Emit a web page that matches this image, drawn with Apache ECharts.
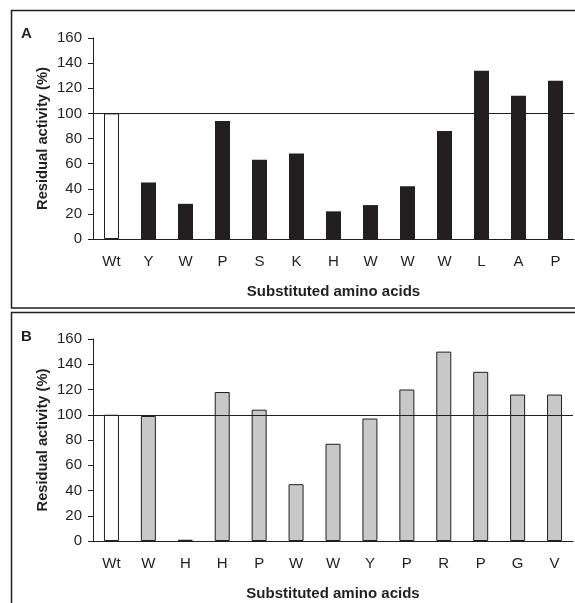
<!doctype html>
<html lang="en">
<head>
    <meta charset="UTF-8">
    <script src="https://cdn.jsdelivr.net/npm/echarts@6/dist/echarts.min.js"></script>
    <title>Residual activity</title>
    <style>
        html, body { margin: 0; padding: 0; background: #fff; }
    </style>
</head>
<body>
<div id="main" style="width: 575px;height:603px;"></div>
<script type="text/javascript">
    // data
    var catsA = ['Wt', 'Y', 'W', 'P', 'S', 'K', 'H', 'W', 'W', 'W', 'L', 'A', 'P'];
    var valsA = [100, 45, 28, 94, 63, 68, 22, 27, 42, 86, 134, 114, 126];
    var catsB = ['Wt', 'W', 'H', 'H', 'P', 'W', 'W', 'Y', 'P', 'R', 'P', 'G', 'V'];
    var valsB = [100, 99, 1, 118, 104, 45, 77, 97, 120, 150, 134, 116, 116];
    var yTicks = [0, 20, 40, 60, 80, 100, 120, 140, 160];

    var font = 'Liberation Sans, Arial, sans-serif';
    var ink = '#231f20';

    function xAxisOf(cats, idx) {
        return {
            type: 'category',
            gridIndex: idx,
            data: cats,
            name: 'Substituted amino acids',
            nameLocation: 'middle',
            nameGap: 45,
            nameTextStyle: { fontFamily: font, fontWeight: 'bold', fontSize: 15, color: ink },
            axisLine: { lineStyle: { color: ink, width: 1 } },
            axisTick: { length: 5, lineStyle: { color: ink } },
            axisLabel: { margin: 15, fontFamily: font, fontSize: 15, color: ink, interval: 0 }
        };
    }

    function yAxisOf(idx) {
        return {
            type: 'value',
            gridIndex: idx,
            min: yTicks[0],
            max: yTicks[yTicks.length - 1],
            interval: 20,
            name: 'Residual activity (%)',
            nameLocation: 'middle',
            nameGap: 43,
            nameMoveOverlap: false,
            nameTextStyle: { fontFamily: font, fontWeight: 'bold', fontSize: 14.7, color: ink },
            axisLine: { show: true, lineStyle: { color: ink, width: 1 } },
            axisTick: { show: true, length: 5, lineStyle: { color: ink } },
            splitLine: { show: false },
            axisLabel: { margin: 11, fontFamily: font, fontSize: 15, color: ink }
        };
    }

    function barData(vals, fill, border) {
        return vals.map(function (v, i) {
            if (i === 0) {
                return { value: v, itemStyle: { color: '#fff', borderColor: ink, borderWidth: 1 } };
            }
            return { value: v, itemStyle: { color: fill, borderColor: border, borderWidth: border ? 1 : 0 } };
        });
    }

    var refLine = {
        silent: true,
        symbol: 'none',
        label: { show: false },
        lineStyle: { color: ink, type: 'solid', width: 1 },
        data: [{ yAxis: 100 }]
    };

    var myChart = echarts.init(document.getElementById('main'));

    var option = {
        animation: false,
        backgroundColor: '#fff',
        grid: [
            { left: 93, right: 1, top: 38, height: 201 },
            { left: 93, right: 2, top: 339, height: 202 }
        ],
        xAxis: [xAxisOf(catsA, 0), xAxisOf(catsB, 1)],
        yAxis: [yAxisOf(0), yAxisOf(1)],
        graphic: [
            { type: 'polyline', shape: { points: [[590, 10.5], [11.5, 10.5], [11.5, 308], [590, 308]] },
              style: { fill: null, stroke: ink, lineWidth: 1.5 } },
            { type: 'polyline', shape: { points: [[590, 312.5], [11.5, 312.5], [11.5, 620]] },
              style: { fill: null, stroke: ink, lineWidth: 1.5 } },
            { type: 'text', left: 21, top: 26, style: { text: 'A', font: 'bold 15px ' + font, fill: ink } },
            { type: 'text', left: 21, top: 329, style: { text: 'B', font: 'bold 15px ' + font, fill: ink } }
        ],
        series: [
            {
                type: 'bar', xAxisIndex: 0, yAxisIndex: 0, barWidth: 15,
                data: barData(valsA, ink, null),
                markLine: refLine
            },
            {
                type: 'bar', xAxisIndex: 1, yAxisIndex: 1, barWidth: 15,
                data: barData(valsB, '#c8c8c8', ink),
                markLine: refLine
            }
        ]
    };

    myChart.setOption(option);
</script>
</body>
</html>
